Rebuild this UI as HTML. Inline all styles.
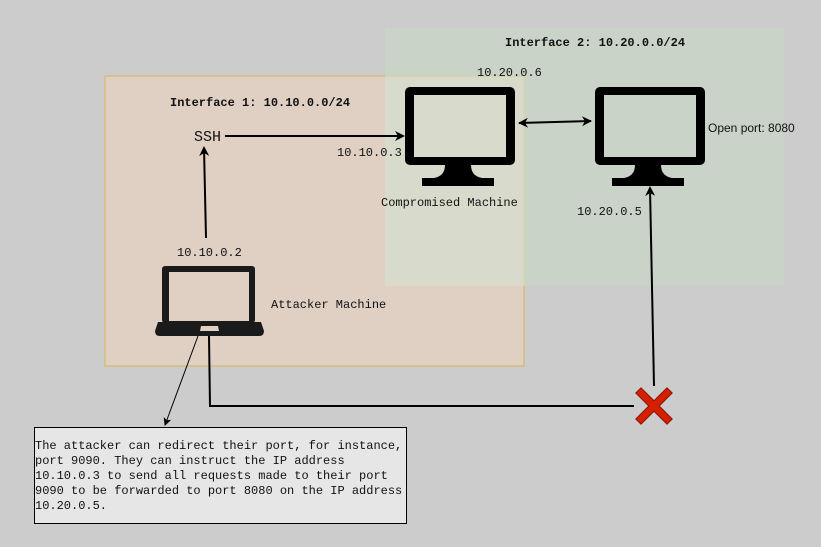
<!DOCTYPE html>
<html><head><style>
body{margin:0;background:#cccccc;}
svg{display:block;}
text{font-family:"Liberation Mono",monospace;font-size:12px;fill:#111;}
.b{font-weight:bold;}
</style></head><body>
<svg width="821" height="547" xmlns="http://www.w3.org/2000/svg">
<defs>
<marker id="a" markerWidth="10" markerHeight="10" refX="8" refY="5" orient="auto" markerUnits="userSpaceOnUse"><path d="M0,0 L10,5 L0,10 L3,5 Z" fill="#000"/></marker>
<marker id="s" markerWidth="10" markerHeight="10" refX="9" refY="5" orient="auto-start-reverse" markerUnits="userSpaceOnUse"><path d="M0,0 L10,5 L0,10 L3,5 Z" fill="#000"/></marker>
<marker id="t" markerWidth="8" markerHeight="8" refX="7" refY="4" orient="auto" markerUnits="userSpaceOnUse"><path d="M0,0 L8,4 L0,8 L2,4 Z" fill="#000"/></marker>
</defs>
<rect x="0" y="0" width="821" height="547" fill="#cccccc"/>
<rect x="105" y="76" width="419" height="290" fill="#dfd0c3" stroke="#d6b656"/>
<rect x="385" y="28" width="399" height="258" fill="#c9d3c8"/>
<rect x="385" y="77" width="139" height="209" fill="#d8dbcc"/>
<line x1="524" y1="77" x2="524" y2="286" stroke="#e0d49a" stroke-width="1"/>
<line x1="385" y1="76" x2="524" y2="76" stroke="#e0d49a" stroke-width="1"/>

<text x="505" y="46" class="b">Interface 2: 10.20.0.0/24</text>
<text x="170" y="106" class="b">Interface 1: 10.10.0.0/24</text>
<text x="477" y="76">10.20.0.6</text>
<text x="194" y="141" style="font-size:15px">SSH</text>
<text x="337" y="156">10.10.0.3</text>
<text x="381" y="206">Compromised Machine</text>
<text x="577" y="215">10.20.0.5</text>
<text x="708" y="132" style="font-family:'Liberation Sans',sans-serif;font-size:12px">Open port: 8080</text>
<text x="177" y="256">10.10.0.2</text>
<text x="271" y="308">Attacker Machine</text>

<g>
<rect x="405" y="87" width="110" height="78" rx="5" fill="#000"/>
<rect x="414" y="95" width="92" height="62" fill="#d8dbcc"/>
<path d="M445,165 L471,165 Q471,176 482,178 L494,178 L494,186 L422,186 L422,178 L434,178 Q445,176 445,165 Z" fill="#000"/>
</g>
<g>
<rect x="595" y="87" width="110" height="78" rx="5" fill="#000"/>
<rect x="604" y="95" width="92" height="62" fill="#c9d3c8"/>
<path d="M635,165 L661,165 Q661,176 672,178 L684,178 L684,186 L612,186 L612,178 L624,178 Q635,176 635,165 Z" fill="#000"/>
</g>
<rect x="162" y="266" width="93" height="57" rx="3" fill="#1a1a1a"/>
<rect x="169" y="272" width="80" height="49" fill="#dfd0c3"/>
<path d="M158,322 L261,322 L264,331 Q264,336 259,336 L160,336 Q155,336 155,331 Z" fill="#1a1a1a"/>
<path d="M201,326 L218,326 L219,331 L200,331 Z" fill="#dfd0c3"/>

<line x1="225" y1="136" x2="403" y2="136" stroke="#000" stroke-width="2" marker-end="url(#a)"/>
<line x1="206" y1="238" x2="204" y2="148" stroke="#000" stroke-width="2" marker-end="url(#a)"/>
<line x1="519" y1="123" x2="591" y2="121" stroke="#000" stroke-width="2" marker-start="url(#s)" marker-end="url(#s)"/>
<line x1="654" y1="386" x2="650" y2="188" stroke="#000" stroke-width="2" marker-end="url(#a)"/>
<polyline points="209,336 210,406 634,406" fill="none" stroke="#000" stroke-width="2"/>
<line x1="198" y1="336" x2="165" y2="425" stroke="#000" stroke-width="1" marker-end="url(#t)"/>

<g transform="translate(654,406) scale(1.3)">
<path d="M-14,-10 L-10,-14 L0,-4 L10,-14 L14,-10 L4,0 L14,10 L10,14 L0,4 L-10,14 L-14,10 L-4,0 Z" fill="#d42000" stroke="#8a1500" stroke-width="0.8"/>
</g>

<rect x="34.5" y="427.5" width="372" height="96" fill="#e6e6e6" stroke="#000"/>
<text x="35" y="449">The attacker can redirect their port, for instance,</text>
<text x="35" y="464">port 9090. They can instruct the IP address</text>
<text x="35" y="479">10.10.0.3 to send all requests made to their port</text>
<text x="35" y="494">9090 to be forwarded to port 8080 on the IP address</text>
<text x="35" y="509">10.20.0.5.</text>
</svg>
</body></html>
